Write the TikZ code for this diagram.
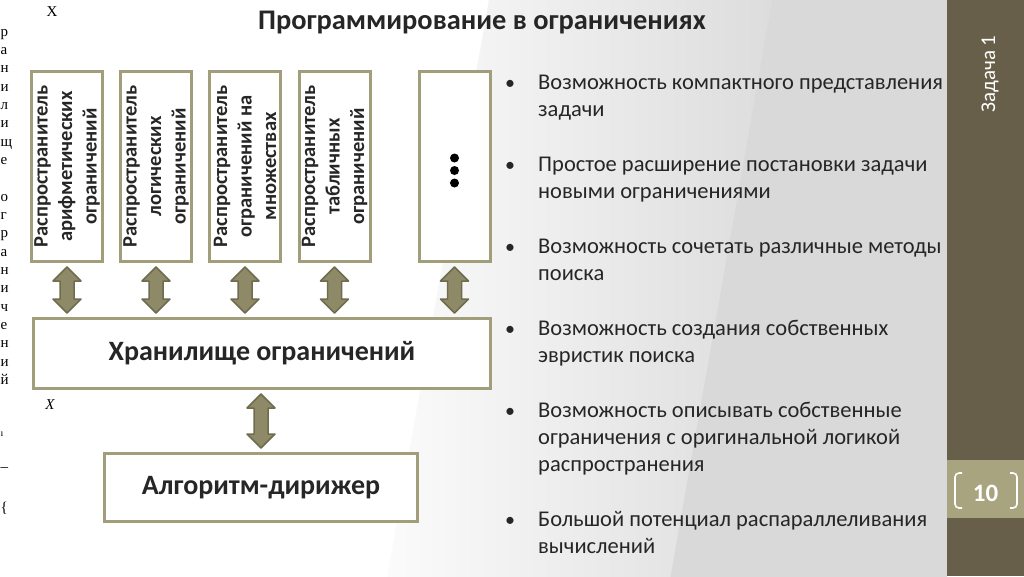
\documentclass[tikz,border=0pt]{standalone}
\usepackage{fontspec}
\setmainfont{Carlito}
\newfontfamily\junkfont{Liberation Serif}
\usetikzlibrary{calc}
\definecolor{bggrey}{HTML}{D9D9D9}
\definecolor{panel}{HTML}{675F49}
\definecolor{band}{HTML}{A8A47F}
\definecolor{boxcol}{HTML}{A29E7C}
\definecolor{arrfill}{HTML}{8E8A68}
\definecolor{arrline}{HTML}{6F6B4F}
\definecolor{txt}{HTML}{262626}
% #1 = top point (bottom edge of upper box), #2 = bottom point (top edge of lower box)
\newcommand\blockarrow[2]{%
  \path[blockarr] let \p1=(#1), \p2=(#2) in
    (\x1,\y1-4pt) -- (\x1+14pt,\y1-18pt) -- (\x1+7pt,\y1-18pt) --
    (\x1+7pt,\y2+18pt) -- (\x1+14pt,\y2+18pt) -- (\x1,\y2+4pt) --
    (\x1-14pt,\y2+18pt) -- (\x1-7pt,\y2+18pt) -- (\x1-7pt,\y1-18pt) --
    (\x1-14pt,\y1-18pt) -- cycle;}
\begin{document}
\begin{tikzpicture}[x=1pt,y=-1pt,
  pbox/.style={draw=boxcol, line width=3pt, fill=white, inner sep=0pt, text=txt},
  vbox/.style={pbox, rotate=90, minimum width=190pt, minimum height=71pt, align=center,
    font=\bfseries\fontsize{20.5}{24.5}\selectfont},
  bigbox/.style={pbox, font=\bfseries\fontsize{28}{32}\selectfont},
  blockarr/.style={fill=arrfill, draw=arrline, line width=1.5pt, line join=round},
  dot/.style={circle, fill=black, inner sep=0pt, minimum size=9pt},
  bul/.style={anchor=north west, inner sep=0pt, align=left, text=txt,
    font=\fontsize{22.5}{27}\selectfont},
  bmark/.style={anchor=base, inner sep=0pt, text=txt, font=\fontsize{20}{27}\selectfont},
  junk/.style={inner sep=0pt, text=black, font=\junkfont\fontsize{15}{15}\selectfont}]
\useasboundingbox (0,0) rectangle (1024,576);
% background
\fill[white] (0,0) rectangle (947,576);
\begin{scope}
  \clip (0,0) rectangle (947,576);
  \begin{scope}[rotate around={-10:(560,288)}]
    \shade[left color=white, right color=bggrey] (440,-300) rectangle (720,900);
    \fill[bggrey] (719,-300) rectangle (1200,900);
  \end{scope}
\end{scope}
% right panel
\fill[panel] (947,0) rectangle (1024,576);
\fill[band] (947,460) rectangle (1024,518);
\node[rotate=90, text=white, inner sep=0pt, font=\fontsize{21}{24}\selectfont] (task) at (990,74) {Задача 1};
\node[text=white, inner sep=0pt, font=\bfseries\fontsize{25}{28}\selectfont] (num) at (985.5,493) {10};
\draw[white, line width=1.6pt, rounded corners=4pt] (962,473) -- (955,473) -- (955,508) -- (962,508);
\draw[white, line width=1.6pt, rounded corners=4pt] (1010,473) -- (1017,473) -- (1017,508) -- (1010,508);
% title
\node[text=txt, inner sep=0pt, font=\bfseries\fontsize{28.4}{32}\selectfont] (title) at (482,23) {Программирование в ограничениях};
% propagator boxes (rotated: west anchor = bottom edge)
\node[vbox] (p1) at (67,166.5) {Распространитель\\арифметических\\ограничений};
\node[vbox] (p2) at (156,166.5) {Распространитель\\логических\\ограничений};
\node[vbox] (p3) at (245,166.5) {Распространитель\\ограничений на\\множествах};
\node[vbox] (p4) at (334.5,166.5) {Распространитель\\табличных\\ограничений};
\node[vbox] (p5) at (454.5,166.5) {};
\node[dot] (d1) at (454.5,158) {};
\node[dot] (d2) at (454.5,170.5) {};
\node[dot] (d3) at (454.5,183) {};
% store and conductor
\node[bigbox, minimum width=457pt, minimum height=70pt] (store) at (262,353.5) {Хранилище ограничений};
\node[bigbox, minimum width=313pt, minimum height=68pt] (algo) at (261,487.5) {Алгоритм-дирижер};
% arrows
\blockarrow{p1.west}{p1.west |- store.north}
\blockarrow{p2.west}{p2.west |- store.north}
\blockarrow{p3.west}{p3.west |- store.north}
\blockarrow{p4.west}{p4.west |- store.north}
\blockarrow{p5.west}{p5.west |- store.north}
\blockarrow{algo.north |- store.south}{algo.north}
% bullets
\node[bmark] (m1) at (510,89) {•};
\node[bul] (b1) at (538,69) {\rule{0pt}{20pt}Возможность компактного представления\\задачи};
\node[bmark] (m2) at (510,171) {•};
\node[bul] (b2) at (538,151) {\rule{0pt}{20pt}Простое расширение постановки задачи\\новыми ограничениями};
\node[bmark] (m3) at (510,253) {•};
\node[bul] (b3) at (538,233) {\rule{0pt}{20pt}Возможность сочетать различные методы\\поиска};
\node[bmark] (m4) at (510,335) {•};
\node[bul] (b4) at (538,315) {\rule{0pt}{20pt}Возможность создания собственных\\эвристик поиска};
\node[bmark] (m5) at (510,417) {•};
\node[bul] (b5) at (538,397) {\rule{0pt}{20pt}Возможность описывать собственные\\ограничения с оригинальной логикой\\распространения};
\node[bmark] (m6) at (510,526) {•};
\node[bul] (b6) at (538,506) {\rule{0pt}{20pt}Большой потенциал распараллеливания\\вычислений};
% stray characters at the left edge
\foreach \ch [count=\i from 0] in {р,а,н,и,л,и,щ,е}
  \node[junk, anchor=base west] (ja\i) at (0.5,{36+18.35*\i}) {\ch};
\foreach \ch [count=\i from 9] in {о,г,р,а,н,и,ч,е,н,и,й}
  \node[junk, anchor=base west] (jb\i) at (0.5,{36+18.35*\i}) {\ch};
\node[junk] (jx1) at (52,12) {X};
\node[junk] (jx2) at (50,405) {\itshape X};
\node[junk, anchor=base west, font=\junkfont\fontsize{10}{10}\selectfont] (jdot) at (0.5,436) {ı};
\node[junk, anchor=base west] (jdash) at (0.5,471) {–};
\node[junk, anchor=base west] (jbrace) at (0.5,512) {\{};
\end{tikzpicture}
\end{document}
